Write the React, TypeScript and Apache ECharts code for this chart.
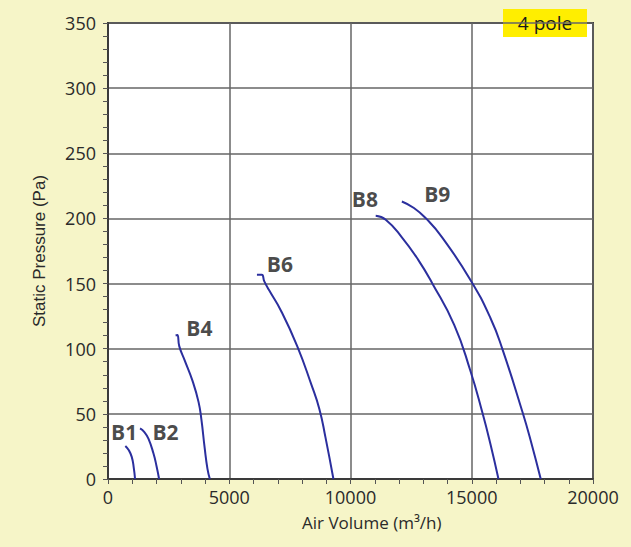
import React, { useEffect, useRef } from "react";
import * as echarts from "echarts";

const xTicks = [0, 5000, 10000, 15000, 20000];
const yTicks = [0, 50, 100, 150, 200, 250, 300, 350];

const b1X = [715, 860, 979, 1060, 1116];
const b1Y = [25.3, 22, 17, 9, 0];
const b2X = [1322, 1500, 1667, 1873, 2000, 2107];
const b2Y = [38.8, 36, 31, 19.7, 10, 0];
const b4X = [2788, 2860, 2938, 3154, 3486, 3735, 3851, 3984, 4100, 4200];
const b4Y = [110.2, 110.5, 102, 91.4, 75.3, 59, 45.7, 24.2, 8, 0];
const b6X = [6142, 6341, 6441, 6640, 7138, 7802, 8383, 8715, 8964, 9296];
const b6Y = [156.7, 156.7, 151.9, 145, 129, 102, 72.6, 53.8, 32.3, 0];
const b8X = [11039, 11454, 12118, 12800, 13363, 14276, 14940, 15438, 15770, 16102];
const b8Y = [202, 199, 185.5, 168, 150.5, 118.3, 83.3, 51, 26.9, 0];
const b9X = [12118, 12616, 13114, 13778, 14940, 15770, 16268, 17098, 17430, 17845];
const b9Y = [213, 208, 200, 185.5, 153, 123.6, 99.5, 51, 29.6, 0];

const labelNames = ["B1", "B2", "B4", "B6", "B8", "B9"];
const labelX = [665, 2374, 3768, 7088, 10591, 13579];
const labelY = [36.3, 36.3, 116, 165, 215, 218.5];

const curves = [
  { name: "B1", x: b1X, y: b1Y },
  { name: "B2", x: b2X, y: b2Y },
  { name: "B4", x: b4X, y: b4Y },
  { name: "B6", x: b6X, y: b6Y },
  { name: "B8", x: b8X, y: b8Y },
  { name: "B9", x: b9X, y: b9Y },
];

export default function App() {
  const ref = useRef<HTMLDivElement>(null);
  useEffect(() => {
    document.body.style.margin = "0";
    const chart = echarts.init(ref.current!, null, { renderer: "svg" });
    const lineSeries = curves.map((c) => ({
      type: "line",
      name: c.name,
      data: c.x.map((v, i) => [v, c.y[i]]),
      smooth: 0.5,
      showSymbol: false,
      symbol: "none",
      lineStyle: { color: "#2B2F9E", width: 2 },
      z: 3,
    }));
    const labelSeries = {
      type: "scatter",
      symbolSize: 0,
      data: labelNames.map((n, i) => ({ name: n, value: [labelX[i], labelY[i]] })),
      label: {
        show: true,
        position: "inside",
        formatter: (p: any) => p.name,
        fontFamily: "Open Sans",
        fontWeight: "bold",
        fontSize: 21,
        color: "#1a1a1a",
      },
      z: 4,
    };
    chart.setOption({
      animation: false,
      backgroundColor: "#F6F5C8",
      grid: {
        left: 108,
        right: 38,
        top: 23,
        bottom: 68,
        show: true,
        backgroundColor: "#FFFFFF",
        borderColor: "#3a3a3a",
        borderWidth: 2,
      },
      xAxis: {
        type: "value",
        min: xTicks[0],
        max: xTicks[xTicks.length - 1],
        interval: 5000,
        axisLine: { show: true, lineStyle: { color: "#3a3a3a", width: 2 } },
        axisTick: { show: true, length: 5, lineStyle: { color: "#555" } },
        minorTick: { show: true, splitNumber: 5, length: 5, lineStyle: { color: "#555" } },
        splitLine: { show: true, lineStyle: { color: "#666", width: 1.5 } },
        axisLabel: {
          fontFamily: "Open Sans",
          fontSize: 18,
          color: "#2a2a2a",
          margin: 9,
          formatter: (v: number) => String(v),
        },
      },
      yAxis: {
        type: "value",
        min: yTicks[0],
        max: yTicks[yTicks.length - 1],
        interval: 50,
        name: "Static Pressure (Pa)",
        nameLocation: "middle",
        nameGap: 60,
        nameTextStyle: { fontFamily: "Liberation Sans", fontSize: 17, color: "#2a2a2a" },
        axisLine: { show: true, lineStyle: { color: "#3a3a3a", width: 2 } },
        axisTick: { show: true, length: 5, lineStyle: { color: "#555" } },
        minorTick: { show: true, splitNumber: 5, length: 5, lineStyle: { color: "#555" } },
        splitLine: { show: true, lineStyle: { color: "#666", width: 1.5 } },
        axisLabel: {
          fontFamily: "Open Sans",
          fontSize: 18,
          color: "#2a2a2a",
          margin: 12,
        },
      },
      graphic: [
        {
          type: "text",
          left: 302,
          top: 514,
          style: {
            text: "Air Volume (m³/h)",
            fontFamily: "Open Sans",
            fontSize: 17,
            fill: "#2a2a2a",
          },
        },
        {
          type: "group",
          left: 503,
          top: 9,
          z: 10,
          children: [
            { type: "rect", shape: { x: 0, y: 0, width: 84, height: 28 }, style: { fill: "#FFEE00" } },
            {
              type: "text",
              x: 42,
              y: 14,
              style: {
                text: "4 pole",
                fontFamily: "Open Sans",
                fontSize: 19,
                fill: "#1a1a1a",
                align: "center",
                verticalAlign: "middle",
              },
            },
          ],
        },
      ],
      series: [...lineSeries, labelSeries],
    });
    return () => chart.dispose();
  }, []);
  return <div ref={ref} style={{ width: 631, height: 547 }} />;
}
